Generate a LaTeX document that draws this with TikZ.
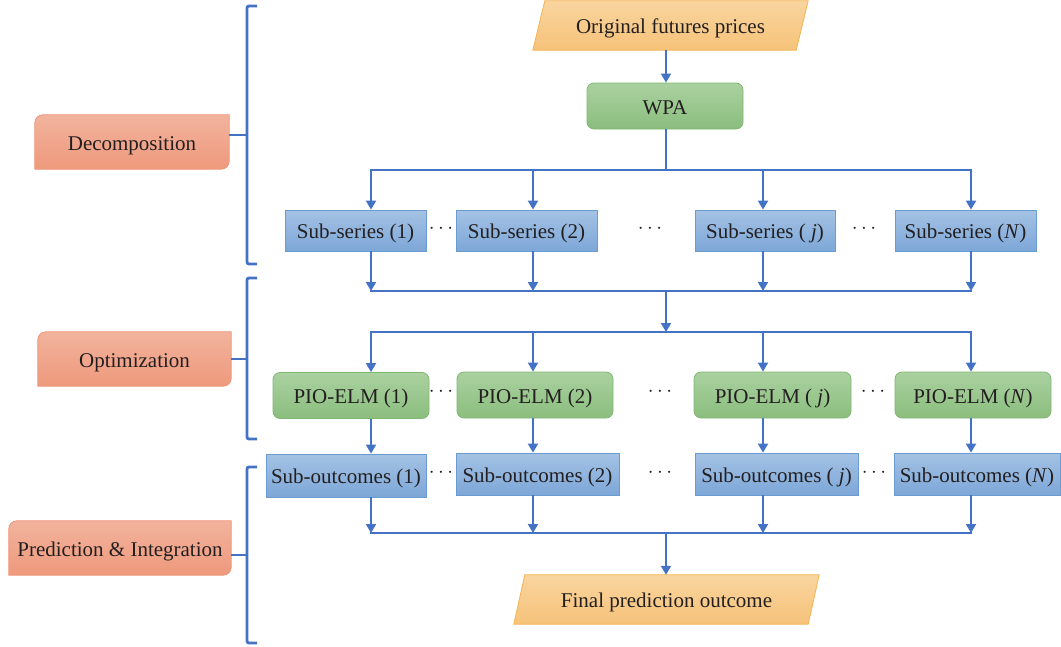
\documentclass[tikz,border=0pt]{standalone}
\usepackage{fontspec}
\setmainfont{Liberation Serif}
\usetikzlibrary{arrows.meta,backgrounds}
\definecolor{lblue}{HTML}{4472C4}
\definecolor{btop}{HTML}{A4C2E4}
\definecolor{bbot}{HTML}{7DA7D8}
\definecolor{bbord}{HTML}{6A9BD1}
\definecolor{gtop}{HTML}{AAD1A0}
\definecolor{gbot}{HTML}{8BBE7E}
\definecolor{gbord}{HTML}{80B872}
\definecolor{stop}{HTML}{F2B39D}
\definecolor{sbot}{HTML}{EE997C}
\definecolor{sbord}{HTML}{EE9476}
\definecolor{otop}{HTML}{F9D59F}
\definecolor{obot}{HTML}{F6C279}
\definecolor{obord}{HTML}{F4B450}
\definecolor{txt}{HTML}{231F20}
\newcommand\fsz{\fontsize{21}{25}\selectfont}
\begin{document}
\begin{tikzpicture}[x=1pt,y=1pt,
  conn/.style={draw=lblue, line width=1.8pt},
  arr/.style={conn, -{Triangle[width=10pt,length=9pt]}},
  brk/.style={draw=lblue, line width=2.8pt, rounded corners=2pt},
  base/.style={inner sep=0pt, font=\fsz, text=txt, text height=16.5pt, text depth=0pt},
  bbox/.style={base, draw=bbord, line width=0.8pt, top color=btop, bottom color=bbot, minimum height=41pt},
  gbox/.style={base, draw=gbord, line width=0.8pt, top color=gtop, bottom color=gbot, rounded corners=7pt, minimum height=46pt},
  pshape/.style={draw=obord, line width=0.8pt, top color=otop, bottom color=obot},
  sshape/.style={draw=sbord, line width=0.8pt, top color=stop, bottom color=sbot},
  dots/.style={inner sep=0pt, text=txt, font=\fsz}]
\useasboundingbox (0,0) rectangle (1061,-646);

% column and row coordinates
\coordinate (k1) at (371,0);
\coordinate (k2) at (533,0);
\coordinate (k3) at (763,0);
\coordinate (k4) at (971,0);
\coordinate (km) at (666,0);
\coordinate (r1) at (0,-170);
\coordinate (r2) at (0,-291);
\coordinate (r3) at (0,-332);
\coordinate (r4) at (0,-533);

% top / bottom parallelograms
\node[base, minimum width=275pt, minimum height=49pt] (orig) at (670.5,-25.5) {Original futures prices};
\node[base, minimum width=305pt, minimum height=49pt] (fin) at (666.5,-599.5) {Final prediction outcome};
\begin{scope}[on background layer]
\path[pshape] (orig.south west) -- ([xshift=12pt]orig.north west) -- (orig.north east) -- ([xshift=-12pt]orig.south east) -- cycle;
\path[pshape] (fin.south west) -- ([xshift=11pt]fin.north west) -- (fin.north east) -- ([xshift=-11pt]fin.south east) -- cycle;
\end{scope}

\node[gbox, minimum width=156pt] (wpa) at (665,-106) {WPA};

% sub-series
\node[bbox, minimum width=141pt] (s1) at (355.5,-230.5) {Sub-series (1)};
\node[bbox, minimum width=141pt] (s2) at (526.5,-230.5) {Sub-series (2)};
\node[bbox, minimum width=140pt] (sj) at (765,-230.5) {Sub-series ( \textit{j})};
\node[bbox, minimum width=141pt] (sN) at (965.5,-230.5) {Sub-series (\textit{N})};

% PIO-ELM
\node[gbox, minimum width=156pt] (p1) at (351,-395.5) {PIO-ELM (1)};
\node[gbox, minimum width=156pt] (p2) at (535,-395) {PIO-ELM (2)};
\node[gbox, minimum width=157pt] (pj) at (772.5,-395) {PIO-ELM ( \textit{j})};
\node[gbox, minimum width=156pt] (pN) at (973,-395) {PIO-ELM (\textit{N})};

% Sub-outcomes
\node[bbox, minimum width=160pt, minimum height=43pt] (o1) at (346,-475.5) {Sub-outcomes (1)};
\node[bbox, minimum width=163pt, minimum height=42pt] (o2) at (537.5,-474) {Sub-outcomes (2)};
\node[bbox, minimum width=163pt, minimum height=42pt] (oj) at (776.5,-474) {Sub-outcomes ( \textit{j})};
\node[bbox, minimum width=166pt, minimum height=42pt] (oN) at (977,-474) {Sub-outcomes (\textit{N})};

% dots
\node[dots] (d11) at (441,-229) {$\cdots$};
\node[dots] (d12) at (650,-229) {$\cdots$};
\node[dots] (d13) at (864,-229) {$\cdots$};
\node[dots] (d21) at (441,-392) {$\cdots$};
\node[dots] (d22) at (660,-392) {$\cdots$};
\node[dots] (d23) at (873,-392) {$\cdots$};
\node[dots] (d31) at (441,-473) {$\cdots$};
\node[dots] (d32) at (660,-473) {$\cdots$};
\node[dots] (d33) at (874,-473) {$\cdots$};

% stage boxes
\node[base, minimum width=194pt, minimum height=54pt] (dec) at (132,-142) {Decomposition};
\node[base, minimum width=193pt, minimum height=54pt] (opt) at (134.5,-359) {Optimization};
\node[base, minimum width=222pt, minimum height=54pt] (pre) at (120,-548) {Prediction \& Integration};
\begin{scope}[on background layer]
\foreach \n in {dec,opt,pre}{
\path[sshape] (\n.south west) -- ([yshift=-8pt]\n.north west) arc[start angle=180,end angle=90,radius=8pt] -- (\n.north east) -- ([yshift=8pt]\n.south east) arc[start angle=0,end angle=-90,radius=8pt] -- cycle;
}
\end{scope}

% brackets
\coordinate (b1t) at (247,-6);
\coordinate (b1b) at (247,-264);
\coordinate (b1m) at (247,-135);
\coordinate (b2t) at (247,-278);
\coordinate (b2b) at (247,-439);
\coordinate (b2m) at (247,-359);
\coordinate (b3t) at (247,-467);
\coordinate (b3b) at (247,-643);
\coordinate (b3m) at (247,-555);
\draw[brk] ([xshift=10pt]b1t) -- (b1t) -- (b1b) -- ([xshift=10pt]b1b);
\draw[brk] ([xshift=10pt]b2t) -- (b2t) -- (b2b) -- ([xshift=10pt]b2b);
\draw[brk] ([xshift=10pt]b3t) -- (b3t) -- (b3b) -- ([xshift=10pt]b3b);
\draw[brk] (b1m) -- (b1m -| dec.east);
\draw[brk] (b2m) -- (b2m -| opt.east);
\draw[brk] (b3m) -- (b3m -| pre.east);

% connectors
\draw[arr] (km |- orig.south) -- (km |- wpa.north);
\draw[conn] (km |- wpa.south) -- (km |- r1);
\draw[conn, line cap=rect] (k1 |- r1) -- (k4 |- r1);
\draw[conn, line cap=rect] (k1 |- r2) -- (k4 |- r2);
\draw[conn, line width=2.8pt, line cap=rect] (k1 |- r3) -- (k4 |- r3);
\draw[conn, line cap=rect] (k1 |- r4) -- (k4 |- r4);
\draw[arr] (km |- r2) -- (km |- r3);
\draw[arr] (km |- r4) -- (km |- fin.north);
\foreach \k/\s/\p/\o in {k1/s1/p1/o1,k2/s2/p2/o2,k3/sj/pj/oj,k4/sN/pN/oN}{
  \draw[arr] (\k |- r1) -- (\k |- \s.north);
  \draw[arr] (\k |- \s.south) -- (\k |- r2);
  \draw[arr] (\k |- r3) -- (\k |- \p.north);
  \draw[arr] (\k |- \p.south) -- (\k |- \o.north);
  \draw[arr] (\k |- \o.south) -- (\k |- r4);
}
\end{tikzpicture}
\end{document}
